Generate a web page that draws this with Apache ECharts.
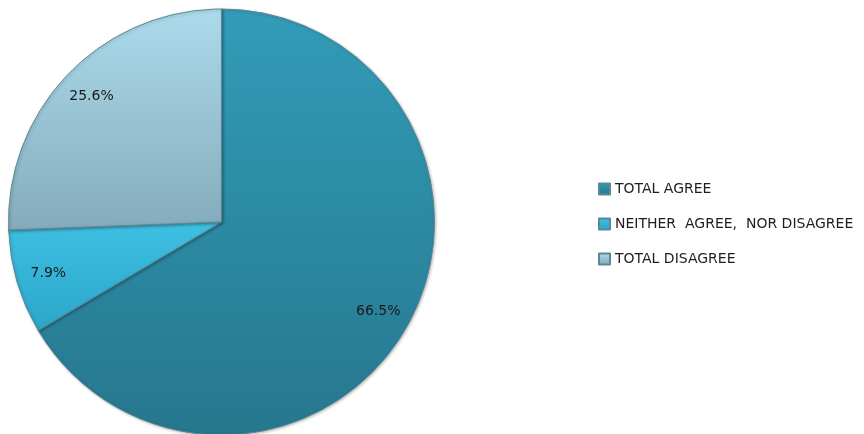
<!DOCTYPE html>
<html>
<head>
<meta charset="utf-8">
<script src="https://cdn.jsdelivr.net/npm/echarts@6/dist/echarts.min.js"></script>
<style>
  html, body { margin: 0; padding: 0; background: #fff; }
  #ec { width: 864px; height: 434px; }
</style>
</head>
<body>
<div id="ec"></div>
<script>
// data
var categories = ['TOTAL AGREE', 'NEITHER  AGREE,  NOR DISAGREE', 'TOTAL DISAGREE'];
var shares = [66.5, 7.9, 25.6];
var colorTop = ['#329cb8', '#3ec0e3', '#acdbeb'];
var colorBottom = ['#26778e', '#2ba6c9', '#84abbb'];

function grad(i) {
    return new echarts.graphic.LinearGradient(0, 0, 0, 1, [
        { offset: 0, color: colorTop[i] },
        { offset: 1, color: colorBottom[i] }
    ]);
}

var pieData = categories.map(function (name, i) {
    return { name: name, value: shares[i], itemStyle: { color: grad(i) } };
});
var labelData = categories.map(function (name, i) {
    return { name: name, value: shares[i] };
});

var myChart = echarts.init(document.getElementById('ec'));

var option = {
    animation: false,
    textStyle: { fontFamily: 'DejaVu Sans' },
    legend: {
        orient: 'vertical',
        left: 593,
        top: 177,
        itemWidth: 11,
        itemHeight: 11,
        itemGap: 21,
        icon: 'rect',
        data: categories,
        textStyle: { fontSize: 14, color: '#1e1e1e', fontFamily: 'DejaVu Sans' }
    },
    series: [{
        type: 'pie',
        center: [221.5, 222],
        radius: [0, 213],
        startAngle: 90,
        clockwise: true,
        label: { show: false },
        labelLine: { show: false },
        emphasis: { disabled: true },
        itemStyle: {
            borderColor: '#5d8794',
            borderWidth: 1,
            shadowColor: 'rgba(0,0,0,0.25)',
            shadowBlur: 3,
            shadowOffsetX: 1,
            shadowOffsetY: 1
        },
        data: pieData
    }, {
        // invisible ring only used to place the percent labels
        type: 'pie',
        center: [221.5, 222],
        radius: [142, 213],
        startAngle: 90,
        clockwise: true,
        silent: true,
        legendHoverLink: false,
        itemStyle: { color: 'rgba(0,0,0,0)' },
        label: {
            show: true,
            position: 'inside',
            formatter: function (p) { return p.value.toFixed(1) + '%'; },
            color: '#1a1a1a',
            fontSize: 14,
            fontFamily: 'DejaVu Sans'
        },
        labelLine: { show: false },
        emphasis: { disabled: true },
        data: labelData
    }]
};

myChart.setOption(option);
</script>
</body>
</html>
